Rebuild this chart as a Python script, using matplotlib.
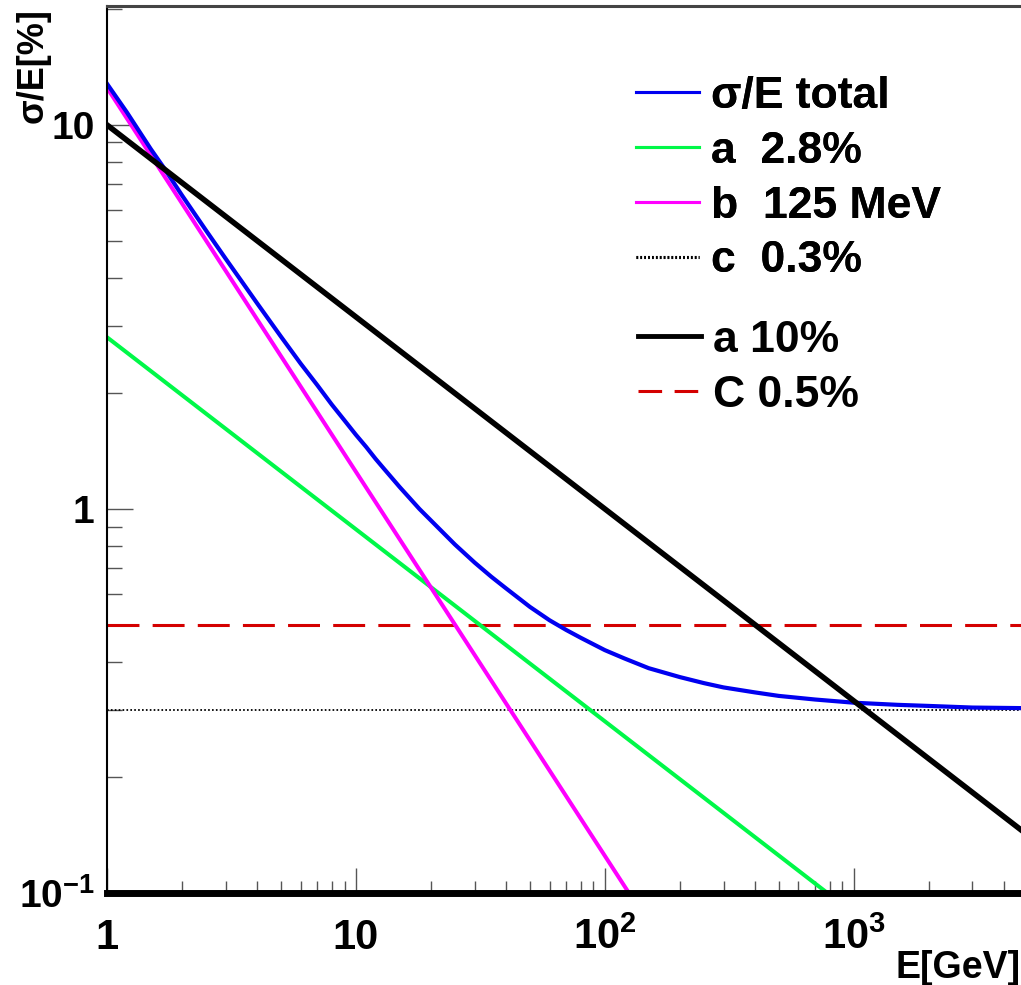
import matplotlib
matplotlib.use('Agg')
import matplotlib.pyplot as plt

plt.rcParams['font.family'] = ['Liberation Sans', 'DejaVu Sans']
plt.rcParams['font.weight'] = 'bold'
plt.rcParams['mathtext.fontset'] = 'custom'
plt.rcParams['mathtext.rm'] = 'Liberation Sans'
plt.rcParams['mathtext.bf'] = 'Liberation Sans:bold'
plt.rcParams['lines.scale_dashes'] = False

# energy range [GeV]
E_MIN = 1
E_MAX = 4700

# total resolution sigma/E [%]
energy_total = [1, 1.2, 1.5, 1.7, 2, 2.5, 3, 3.5, 4, 5, 6, 7, 8, 9, 10, 11, 12,
                13, 15, 18, 20, 25, 30, 35, 40, 50, 60, 70, 80, 100, 120, 150,
                200, 250, 300, 400, 500, 700, 1000, 1500, 2000, 3000, E_MAX]
sigma_total = [12.8, 10.8, 8.65, 7.70, 6.56, 5.31, 4.48, 3.89, 3.44, 2.81,
               2.39, 2.10, 1.87, 1.70, 1.56, 1.45, 1.35, 1.27, 1.14, 1.00,
               0.934, 0.808, 0.725, 0.666, 0.622, 0.556, 0.513, 0.484, 0.462,
               0.429, 0.408, 0.385, 0.365, 0.352, 0.343, 0.333, 0.326, 0.319,
               0.313, 0.309, 0.307, 0.304, 0.303]

# stochastic term a = 2.8%
energy_a = [E_MIN, 784]
sigma_a = [2.8, 0.1]

# noise term b = 125 MeV
energy_b = [E_MIN, 125]
sigma_b = [12.5, 0.1]

# constant term c = 0.3%
energy_c = [E_MIN, E_MAX]
sigma_c = [0.3, 0.3]

# reference: a = 10%
energy_a10 = [E_MIN, E_MAX]
sigma_a10 = [10.0, 0.146]

# reference: C = 0.5%
energy_c05 = [E_MIN, E_MAX]
sigma_c05 = [0.5, 0.5]

fig = plt.figure(figsize=(10.21, 9.85), dpi=100)
ax = fig.add_axes([0.1048, 0.0934, 0.8952, 0.9005])
ax.set_xscale('log')
ax.set_yscale('log')
ax.set_xlim(E_MIN, E_MAX)
ax.set_ylim(0.1, 20.4)

c_line, = ax.plot(energy_c, sigma_c, color='black', lw=1.3, linestyle=(0, (1.2, 1.6)))
c05_line, = ax.plot(energy_c05, sigma_c05, color='#d40000', lw=2.2, linestyle=(0, (23, 9.5)))
a_line, = ax.plot(energy_a, sigma_a, color='#00f848', lw=2.9)
b_line, = ax.plot(energy_b, sigma_b, color='#ff00ff', lw=2.9)
tot_line, = ax.plot(energy_total, sigma_total, color='#0000f0', lw=3.0)
a10_line, = ax.plot(energy_a10, sigma_a10, color='black', lw=4.0)

# axes frame
ax.spines['right'].set_visible(False)
ax.spines['top'].set_color('#444444')
ax.spines['top'].set_linewidth(2.2)
ax.spines['left'].set_linewidth(1.5)
ax.spines['bottom'].set_linewidth(5.0)

ax.tick_params(which='both', direction='in', top=False, right=False, color='#555555', width=1.0)
ax.tick_params(axis='x', which='major', length=18, pad=18, labelsize=30)
ax.tick_params(axis='x', which='minor', length=9)
ax.tick_params(axis='y', which='major', length=19, pad=9, labelsize=28)
ax.tick_params(axis='y', which='minor', length=10.5)

ax.set_xticks([1, 10, 100, 1000])
ax.set_xticklabels(['1', '10', r'$\mathbf{10^{2}}$', r'$\mathbf{10^{3}}$'], fontweight='bold')
ax.set_yticks([0.1, 1, 10])
ax.set_yticklabels([r'$\mathbf{10^{-1}}$', '1', '10'], fontweight='bold')

fig.text(1.0, 1 - 968 / 985, 'E[GeV]', ha='right', va='center', fontsize=27, fontweight='bold')
fig.text(33 / 1021, 1 - 8 / 985, 'σ/E[%]', ha='center', va='top', rotation=90,
         fontsize=26, fontweight='bold')

# legends: resolution terms and reference values
leg1 = fig.legend([tot_line, a_line, b_line, c_line],
                  ['σ/E total', 'a  2.8%', 'b  125 MeV', 'c  0.3%'],
                  loc='upper left', bbox_to_anchor=(636 / 1021, 1 - 76 / 985),
                  frameon=False, fontsize=32, handlelength=1.42, handletextpad=0.27,
                  labelspacing=0.31, borderpad=0, borderaxespad=0)
for h in leg1.get_lines():
    h.set_linewidth(2.2)
leg2 = fig.legend([a10_line, c05_line], ['a 10%', 'C 0.5%'],
                  loc='upper left', bbox_to_anchor=(638 / 1021, 1 - 320 / 985),
                  frameon=False, fontsize=32, handlelength=1.42, handletextpad=0.27,
                  labelspacing=0.31, borderpad=0, borderaxespad=0)
leg2.get_lines()[0].set_linewidth(3.5)
leg2.get_lines()[1].set_linewidth(2.2)
leg2.get_lines()[1].set_linestyle((0, (17, 9)))
fig.add_artist(leg1)

fig.savefig('out.png', dpi=100)
